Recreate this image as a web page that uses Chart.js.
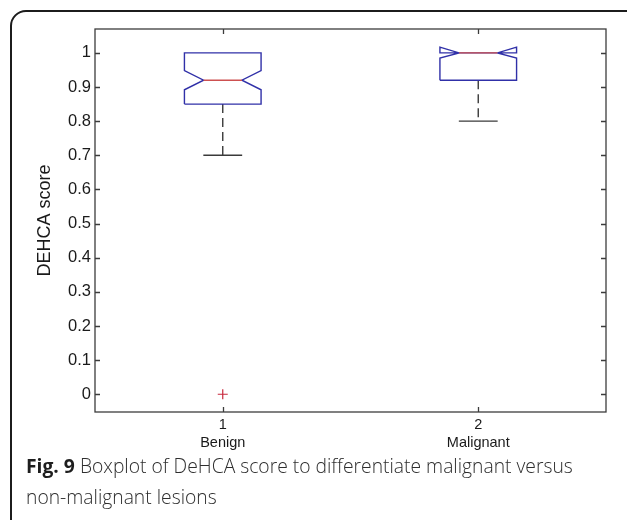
<!DOCTYPE html>
<html>
<head>
<meta charset="utf-8">
<script src="https://cdn.jsdelivr.net/npm/chart.js@4/dist/chart.umd.min.js"></script>
<style>
    html, body { margin: 0; padding: 0; background: #fff; overflow: hidden; }
    body { width: 627px; height: 520px; position: relative; }
    #frame {
        position: absolute; left: 10px; top: 10px; width: 640px; height: 530px;
        border: 2px solid #1c1c1c; border-radius: 16px; box-sizing: border-box;
    }
    #chartBox { position: absolute; left: 0; top: 0; width: 627px; height: 452px; }
    #caption {
        position: absolute; left: 26px; top: 450px; width: 600px; white-space: nowrap;
        font-family: "Open Sans", sans-serif; font-size: 19.3px; line-height: 31px;
        color: #2e2e2e; font-weight: 300;
    }
    #caption b { font-weight: 700; color: #1e1e1e; }
</style>
</head>
<body>
<div id="frame"></div>
<div id="chartBox"><canvas id="boxChart" width="627" height="452"></canvas></div>
<div id="caption"><b>Fig. 9</b> Boxplot of DeHCA score to differentiate malignant versus<br>non-malignant lesions</div>
<script>
// Box statistics
const categories = ['Benign', 'Malignant'];
const positions = [1, 2];
const xTickLabels = ['1', '2'];
const lowerWhisker = [0.70, 0.80];
const q1 = [0.85, 0.92];
const medians = [0.92, 1.00];
const q3 = [1.00, 1.00];
const upperWhisker = [1.00, 1.00];
const notchLow = [0.892, 0.985];
const notchHigh = [0.948, 1.017];
const outlierX = [1];
const outlierY = [0];
const yTicks = [0, 0.1, 0.2, 0.3, 0.4, 0.5, 0.6, 0.7, 0.8, 0.9, 1];
const yTickLabels = ['0', '0.1', '0.2', '0.3', '0.4', '0.5', '0.6', '0.7', '0.8', '0.9', '1'];

// drawing sizes (in x-axis units)
const boxHalf = 0.15;
const notchHalf = 0.075;
const capHalf = 0.076;

const boxColor = 'rgb(48, 48, 168)';
const medianColor = 'rgb(205, 80, 80)';
const whiskerColor = '#3a3a3a';
const axisColor = '#3c3c3c';

function lineSet(points, color, order, dash) {
    return {
        type: 'line',
        data: points,
        showLine: true,
        borderColor: color,
        borderWidth: 1.4,
        borderDash: dash || [],
        pointRadius: 0,
        tension: 0,
        fill: false,
        order: order
    };
}

const datasets = [];
positions.forEach((x, i) => {
    const l = x - boxHalf, r = x + boxHalf;
    const nl = x - notchHalf, nr = x + notchHalf;

    // whiskers (dashed) and caps; a whisker of zero length stays hidden under the box
    datasets.push(lineSet([{ x: x, y: q1[i] }, { x: x, y: lowerWhisker[i] }], whiskerColor, 3, [9, 5]));
    datasets.push(lineSet([{ x: x - capHalf, y: lowerWhisker[i] }, { x: x + capHalf, y: lowerWhisker[i] }], whiskerColor, 3));
    if (upperWhisker[i] > q3[i]) {
        datasets.push(lineSet([{ x: x, y: q3[i] }, { x: x, y: upperWhisker[i] }], whiskerColor, 3, [9, 5]));
        datasets.push(lineSet([{ x: x - capHalf, y: upperWhisker[i] }, { x: x + capHalf, y: upperWhisker[i] }], whiskerColor, 3));
    }

    // notched box outline
    datasets.push(lineSet([
        { x: l, y: q1[i] }, { x: l, y: notchLow[i] }, { x: nl, y: medians[i] },
        { x: l, y: notchHigh[i] }, { x: l, y: q3[i] }, { x: r, y: q3[i] },
        { x: r, y: notchHigh[i] }, { x: nr, y: medians[i] }, { x: r, y: notchLow[i] },
        { x: r, y: q1[i] }, { x: l, y: q1[i] }
    ], boxColor, 2));

    // median
    datasets.push(lineSet([{ x: nl, y: medians[i] }, { x: nr, y: medians[i] }], medianColor, 1));
});

// outliers
datasets.push({
    type: 'scatter',
    data: outlierX.map((x, i) => ({ x: x, y: outlierY[i] })),
    pointStyle: 'cross',
    pointRadius: 5,
    borderColor: 'rgb(200, 40, 60)',
    borderWidth: 1.2,
    order: 0
});

// axes box with inward ticks, MATLAB style
const axesFrame = {
    id: 'axesFrame',
    afterDatasetsDraw(chart) {
        const { ctx, chartArea: a, scales } = chart;
        ctx.save();
        ctx.strokeStyle = axisColor;
        ctx.lineWidth = 1.3;
        ctx.strokeRect(a.left, a.top, a.right - a.left, a.bottom - a.top);
        ctx.beginPath();
        yTicks.forEach(v => {
            const py = Math.round(scales.y.getPixelForValue(v)) + 0.5;
            ctx.moveTo(a.left, py); ctx.lineTo(a.left + 5, py);
            ctx.moveTo(a.right, py); ctx.lineTo(a.right - 5, py);
        });
        positions.forEach(v => {
            const px = Math.round(scales.x.getPixelForValue(v)) + 0.5;
            ctx.moveTo(px, a.bottom); ctx.lineTo(px, a.bottom - 5);
            ctx.moveTo(px, a.top); ctx.lineTo(px, a.top + 5);
        });
        ctx.stroke();
        ctx.restore();
    }
};

const ctx = document.getElementById('boxChart').getContext('2d');
new Chart(ctx, {
    type: 'scatter',
    data: { datasets: datasets },
    options: {
        responsive: false,
        animation: false,
        layout: { padding: { left: 0, top: 29, right: 21, bottom: 0 } },
        plugins: { legend: { display: false }, tooltip: { enabled: false } },
        scales: {
            x: {
                type: 'linear',
                min: 0.5,
                max: 2.5,
                grid: { display: false, drawTicks: false },
                border: { display: false },
                afterBuildTicks: s => { s.ticks = positions.map(v => ({ value: v })); },
                afterFit: s => { s.height = 40; },
                ticks: {
                    padding: 4,
                    color: '#1a1a1a',
                    font: { family: '"Liberation Sans", Arial, sans-serif', size: 14.5, lineHeight: 1.25 },
                    callback: (v, i) => [xTickLabels[i], categories[i]]
                }
            },
            y: {
                type: 'linear',
                min: -0.052,
                max: 1.07,
                grid: { display: false, drawTicks: false },
                border: { display: false },
                afterBuildTicks: s => { s.ticks = yTicks.map(v => ({ value: v })); },
                afterFit: s => { s.width = 95; },
                title: {
                    display: true,
                    text: 'DEHCA score',
                    color: '#1a1a1a',
                    font: { family: '"Liberation Sans", Arial, sans-serif', size: 18 },
                    padding: { top: 34, bottom: 0 }
                },
                ticks: {
                    padding: 4,
                    color: '#1a1a1a',
                    font: { family: '"Liberation Sans", Arial, sans-serif', size: 16.5 },
                    callback: (v, i) => yTickLabels[i]
                }
            }
        }
    },
    plugins: [axesFrame]
});
</script>
</body>
</html>
